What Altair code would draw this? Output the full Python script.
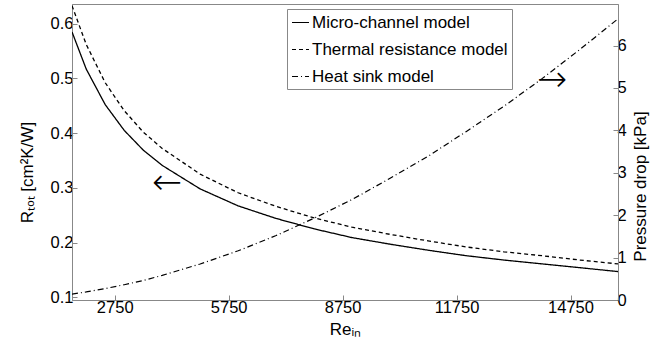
import altair as alt
import pandas as pd

# Data
re_vals = [1625, 2000, 2500, 3000, 3500, 4000, 5000, 6000, 7000, 8000, 9000,
           10000, 11000, 12000, 13000, 14000, 15000, 16000]
micro = [0.585, 0.517, 0.452, 0.405, 0.369, 0.341, 0.298, 0.267, 0.244, 0.225,
         0.209, 0.197, 0.186, 0.176, 0.168, 0.161, 0.154, 0.147]
thermal = [0.633, 0.562, 0.492, 0.441, 0.402, 0.372, 0.325, 0.291, 0.266, 0.245,
           0.228, 0.215, 0.203, 0.192, 0.183, 0.176, 0.168, 0.161]
heatsink = [0.14, 0.19, 0.27, 0.36, 0.46, 0.58, 0.85, 1.16, 1.52, 1.93, 2.37,
            2.87, 3.39, 3.97, 4.57, 5.22, 5.91, 6.63]

models = ["Micro-channel model", "Thermal resistance model", "Heat sink model"]
x_ticks = [2750, 5750, 8750, 11750, 14750]
left_ticks = [0.1, 0.2, 0.3, 0.4, 0.5, 0.6]
right_ticks = [0, 1, 2, 3, 4, 5, 6]

# annotation arrows (data coordinates)
arrow_left = {"Re": [4126], "v": [0.309], "t": ["←"]}
arrow_right = {"Re": [14263], "v": [5.18], "t": ["→"]}

rows_left = []
for r, a, b in zip(re_vals, micro, thermal):
    rows_left.append({"Re": r, "v": a, "model": models[0]})
    rows_left.append({"Re": r, "v": b, "model": models[1]})
df_left = pd.DataFrame(rows_left)
df_right = pd.DataFrame({"Re": re_vals, "v": heatsink, "model": models[2]})

x_scale = alt.Scale(domain=[1625, 16000], nice=False, zero=False)
yl_scale = alt.Scale(domain=[0.095, 0.636], nice=False, zero=False)
yr_scale = alt.Scale(domain=[0, 6.98], nice=False, zero=False)
dash_scale = alt.Scale(domain=models, range=[[1, 0], [4, 3], [6, 3, 1, 3]])

x_axis = alt.Axis(values=x_ticks, format="d", title="Reᵢₙ", titlePadding=6)
yl_axis = alt.Axis(values=left_ticks, format=".1f", title="Rₜₒₜ [cm²K/W]",
                   titleX=-45, titleY=168, titleAngle=270,
                   titleBaseline="middle", titleAlign="center")
yr_axis = alt.Axis(values=right_ticks, format="d", orient="right",
                   title="Pressure drop [kPa]", titleAngle=270,
                   titleX=22, titleY=182, titleBaseline="middle",
                   titleAlign="center")

legend = alt.Legend(title=None, orient="none", legendX=215, legendY=5,
                    symbolType="stroke", symbolSize=289, symbolStrokeWidth=1.2,
                    symbolStrokeColor="black", labelFontSize=17,
                    labelFont="Liberation Sans", labelOffset=2, labelLimit=400,
                    rowPadding=9, padding=4, strokeColor="#888888",
                    fillColor="white")

left_lines = alt.Chart(df_left).mark_line(color="black", strokeWidth=1.3, clip=True).encode(
    x=alt.X("Re:Q", scale=x_scale, axis=x_axis),
    y=alt.Y("v:Q", scale=yl_scale, axis=yl_axis),
    strokeDash=alt.StrokeDash("model:N", scale=dash_scale, legend=legend),
    detail="model:N",
)
left_arrow = alt.Chart(pd.DataFrame(arrow_left)).mark_text(
    font="DejaVu Sans", fontSize=36, fontWeight=200, color="black",
    baseline="middle", align="center").encode(
    x=alt.X("Re:Q", scale=x_scale, axis=x_axis),
    y=alt.Y("v:Q", scale=yl_scale, axis=yl_axis),
    text="t:N")
left = alt.layer(left_lines, left_arrow)

right_line = alt.Chart(df_right).mark_line(color="black", strokeWidth=1.2, clip=True).encode(
    x=alt.X("Re:Q", scale=x_scale, axis=x_axis),
    y=alt.Y("v:Q", scale=yr_scale, axis=yr_axis),
    strokeDash=alt.StrokeDash("model:N", scale=dash_scale, legend=legend),
)
right_arrow = alt.Chart(pd.DataFrame(arrow_right)).mark_text(
    font="DejaVu Sans", fontSize=36, fontWeight=200, color="black",
    baseline="middle", align="center").encode(
    x=alt.X("Re:Q", scale=x_scale, axis=x_axis),
    y=alt.Y("v:Q", scale=yr_scale, axis=yr_axis),
    text="t:N")
right = alt.layer(right_line, right_arrow)

chart = alt.layer(left, right).resolve_scale(y="independent").properties(
    width=546, height=296,
    autosize=alt.AutoSizeParams(type="none"),
    padding={"left": 72, "top": 4, "right": 46, "bottom": 51},
    background="white",
).configure_view(stroke="#888888", strokeWidth=1).configure_axis(
    domainColor="#888888", tickColor="#888888", tickSize=alt.ExprRef("-5"),
    grid=False, labelColor="black", labelFont="Liberation Sans",
    labelFontSize=16.5, labelPadding=4, titleFont="Liberation Sans",
    titleFontSize=17, titleFontWeight="normal", titleColor="black",
)

chart.save("out.html", embed_options={"renderer": "svg", "actions": False})
